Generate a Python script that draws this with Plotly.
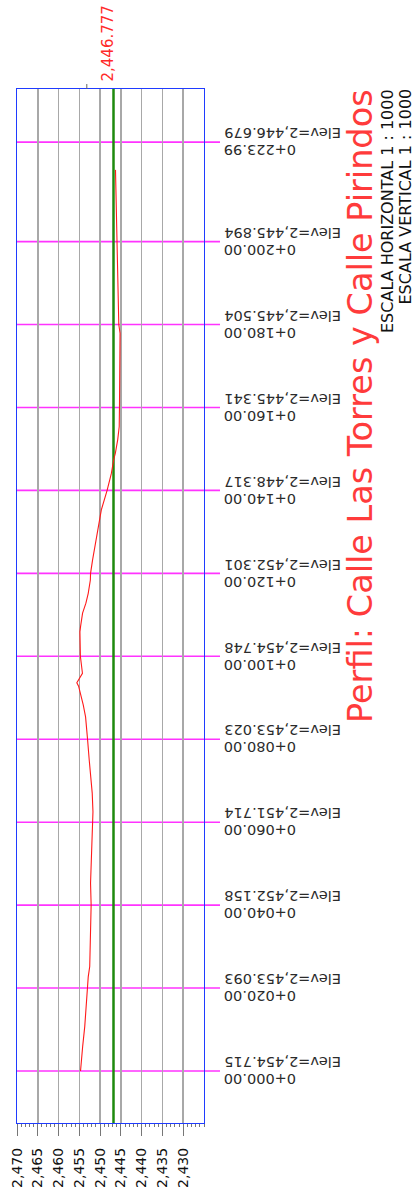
import plotly.graph_objects as go

# ---- data ----
profile_station = [0, 2.65, 5.9, 10.7, 15.5, 20, 22.7, 25.2, 33.2, 40, 45.3, 50.9, 55.7, 60,
                   62.5, 67, 71, 75, 80, 85.4, 88.3, 91.1, 92.8, 93.6, 94.9, 95.9, 100,
                   105.9, 107.2, 110.4, 112.8, 115.2, 118.4, 120, 123.2, 128.1, 132.9, 135.3,
                   140, 144.1, 147.4, 149, 152.2, 155.4, 160, 171.5, 177.9, 180, 187.6,
                   192.4, 200, 203.6, 211.7, 217.3]
profile_elev = [2454.715, 2454.55, 2454.2, 2453.7, 2453.4, 2453.093, 2452.86, 2452.5, 2452.25,
                2452.158, 2452.3, 2452.06, 2451.85, 2451.714, 2451.72, 2451.9, 2452.3, 2452.62,
                2453.023, 2453.5, 2454.06, 2454.8, 2455.18, 2455.6, 2454.86, 2454.25, 2454.748,
                2454.86, 2454.7, 2454.22, 2453.42, 2452.86, 2452.35, 2452.301, 2451.82, 2451.0,
                2450.2, 2449.71, 2448.317, 2447.29, 2446.73, 2446.33, 2445.77, 2445.4, 2445.341,
                2445.2, 2445.2, 2445.504, 2445.69, 2445.77, 2445.894, 2445.95, 2446.17, 2446.3]

label_station = [0, 20, 40, 60, 80, 100, 120, 140, 160, 180, 200, 223.99]
label_station_text = ["0+000.00", "0+020.00", "0+040.00", "0+060.00", "0+080.00", "0+100.00",
                      "0+120.00", "0+140.00", "0+160.00", "0+180.00", "0+200.00", "0+223.99"]
label_elev_text = ["Elev=2,454.715", "Elev=2,453.093", "Elev=2,452.158", "Elev=2,451.714",
                   "Elev=2,453.023", "Elev=2,454.748", "Elev=2,452.301", "Elev=2,448.317",
                   "Elev=2,445.341", "Elev=2,445.504", "Elev=2,445.894", "Elev=2,446.679"]

elev_ticks = [2470, 2465, 2460, 2455, 2450, 2445, 2440, 2435, 2430]
elev_tick_text = ["2,470", "2,465", "2,460", "2,455", "2,450", "2,445", "2,440", "2,435", "2,430"]

datum_elev = 2446.777
datum_text = "2,446.777"
mark_elev = 2453.2

title_text = "Perfil: Calle Las Torres y Calle Pirindos"
scale_h = "ESCALA HORIZONTAL 1 : 1000"
scale_v = "ESCALA VERTICAL 1 : 1000"

# ---- layout constants ----
W, H = 414, 1191
L, R, T, B = 17, 210, 89, 68
pw = W - L - R
ph = H - T - B

def px_x(px):
    return (px - L) / pw

def px_y(py):
    return (H - B - py) / ph

FONT = "DejaVu Sans"

fig = go.Figure()

fig.add_trace(go.Scatter(x=profile_elev, y=profile_station, mode="lines",
                         line=dict(color="#ff1a1a", width=1.1), hoverinfo="skip",
                         showlegend=False))

shapes = []
for s in label_station:
    shapes.append(dict(type="line", xref="paper", yref="y", x0=0, x1=px_x(220), y0=s, y1=s,
                       line=dict(color="#ff33ff", width=1.6), layer="below"))
shapes.append(dict(type="line", xref="x", yref="paper", x0=datum_elev, x1=datum_elev,
                   y0=0, y1=1, line=dict(color="#1e8a0e", width=2.5), layer="below"))
shapes.append(dict(type="line", xref="x", yref="paper", x0=mark_elev, x1=mark_elev,
                   y0=1, y1=1 + 5 / ph, line=dict(color="#666666", width=1)))

annotations = []
for s, st, ev in zip(label_station, label_station_text, label_elev_text):
    annotations.append(dict(xref="paper", yref="y", x=px_x(223), y=s, text=ev,
                            showarrow=False, textangle=180, xanchor="left", yanchor="middle",
                            yshift=8.5, borderpad=0, font=dict(family=FONT, size=14.5, color="#2b2b2b")))
    annotations.append(dict(xref="paper", yref="y", x=px_x(223), y=s, text=st,
                            showarrow=False, textangle=180, xanchor="left", yanchor="middle",
                            yshift=-8.5, borderpad=0, font=dict(family=FONT, size=14.5, color="#2b2b2b")))

annotations.append(dict(xref="paper", yref="paper", x=px_x(360), y=px_y(88), text=title_text,
                        showarrow=False, textangle=-90, xanchor="center", yanchor="top",
                        borderpad=0, font=dict(family=FONT, size=33.5, color="#ff3b3b")))
annotations.append(dict(xref="paper", yref="paper", x=px_x(387), y=px_y(88), text=scale_h,
                        showarrow=False, textangle=-90, xanchor="center", yanchor="top",
                        borderpad=0, font=dict(family=FONT, size=16, color="#111111")))
annotations.append(dict(xref="paper", yref="paper", x=px_x(404.5), y=px_y(88), text=scale_v,
                        showarrow=False, textangle=-90, xanchor="center", yanchor="top",
                        borderpad=0, font=dict(family=FONT, size=16, color="#111111")))
annotations.append(dict(xref="x", yref="paper", x=datum_elev, y=px_y(83), text=datum_text,
                        showarrow=False, textangle=-90, xanchor="center", yanchor="bottom",
                        xshift=-6, borderpad=0, font=dict(family=FONT, size=15, color="#ff2a2a")))

fig.update_layout(
    width=W, height=H,
    margin=dict(l=L, r=R, t=T, b=B, pad=0),
    paper_bgcolor="white", plot_bgcolor="white",
    showlegend=False,
    shapes=shapes, annotations=annotations,
    xaxis=dict(range=[2470, 2425], tickmode="array", tickvals=elev_ticks, ticktext=elev_tick_text,
               tickangle=-90, ticks="outside", ticklen=12, tickcolor="#777777", tickwidth=1,
               tickfont=dict(family=FONT, size=14, color="#111111"),
               showgrid=True, gridcolor="#a8a8a8", gridwidth=1.5, zeroline=False,
               showline=True, linecolor="#1f3bff", linewidth=1.3, mirror=True,
               minor=dict(dtick=1, ticks="outside", ticklen=3, tickcolor="#777777", showgrid=False),
               ticklabelstandoff=6, automargin=False),
    yaxis=dict(range=[-12.54, 236.8], showticklabels=False, showgrid=False, zeroline=False,
               ticks="", showline=True, linecolor="#1f3bff", linewidth=1.3, mirror=True,
               automargin=False),
)

fig.write_html("out.html",
               config={"displayModeBar": False, "staticPlot": True},
               post_script="document.body.style.margin='0';document.body.style.overflow='hidden';")
